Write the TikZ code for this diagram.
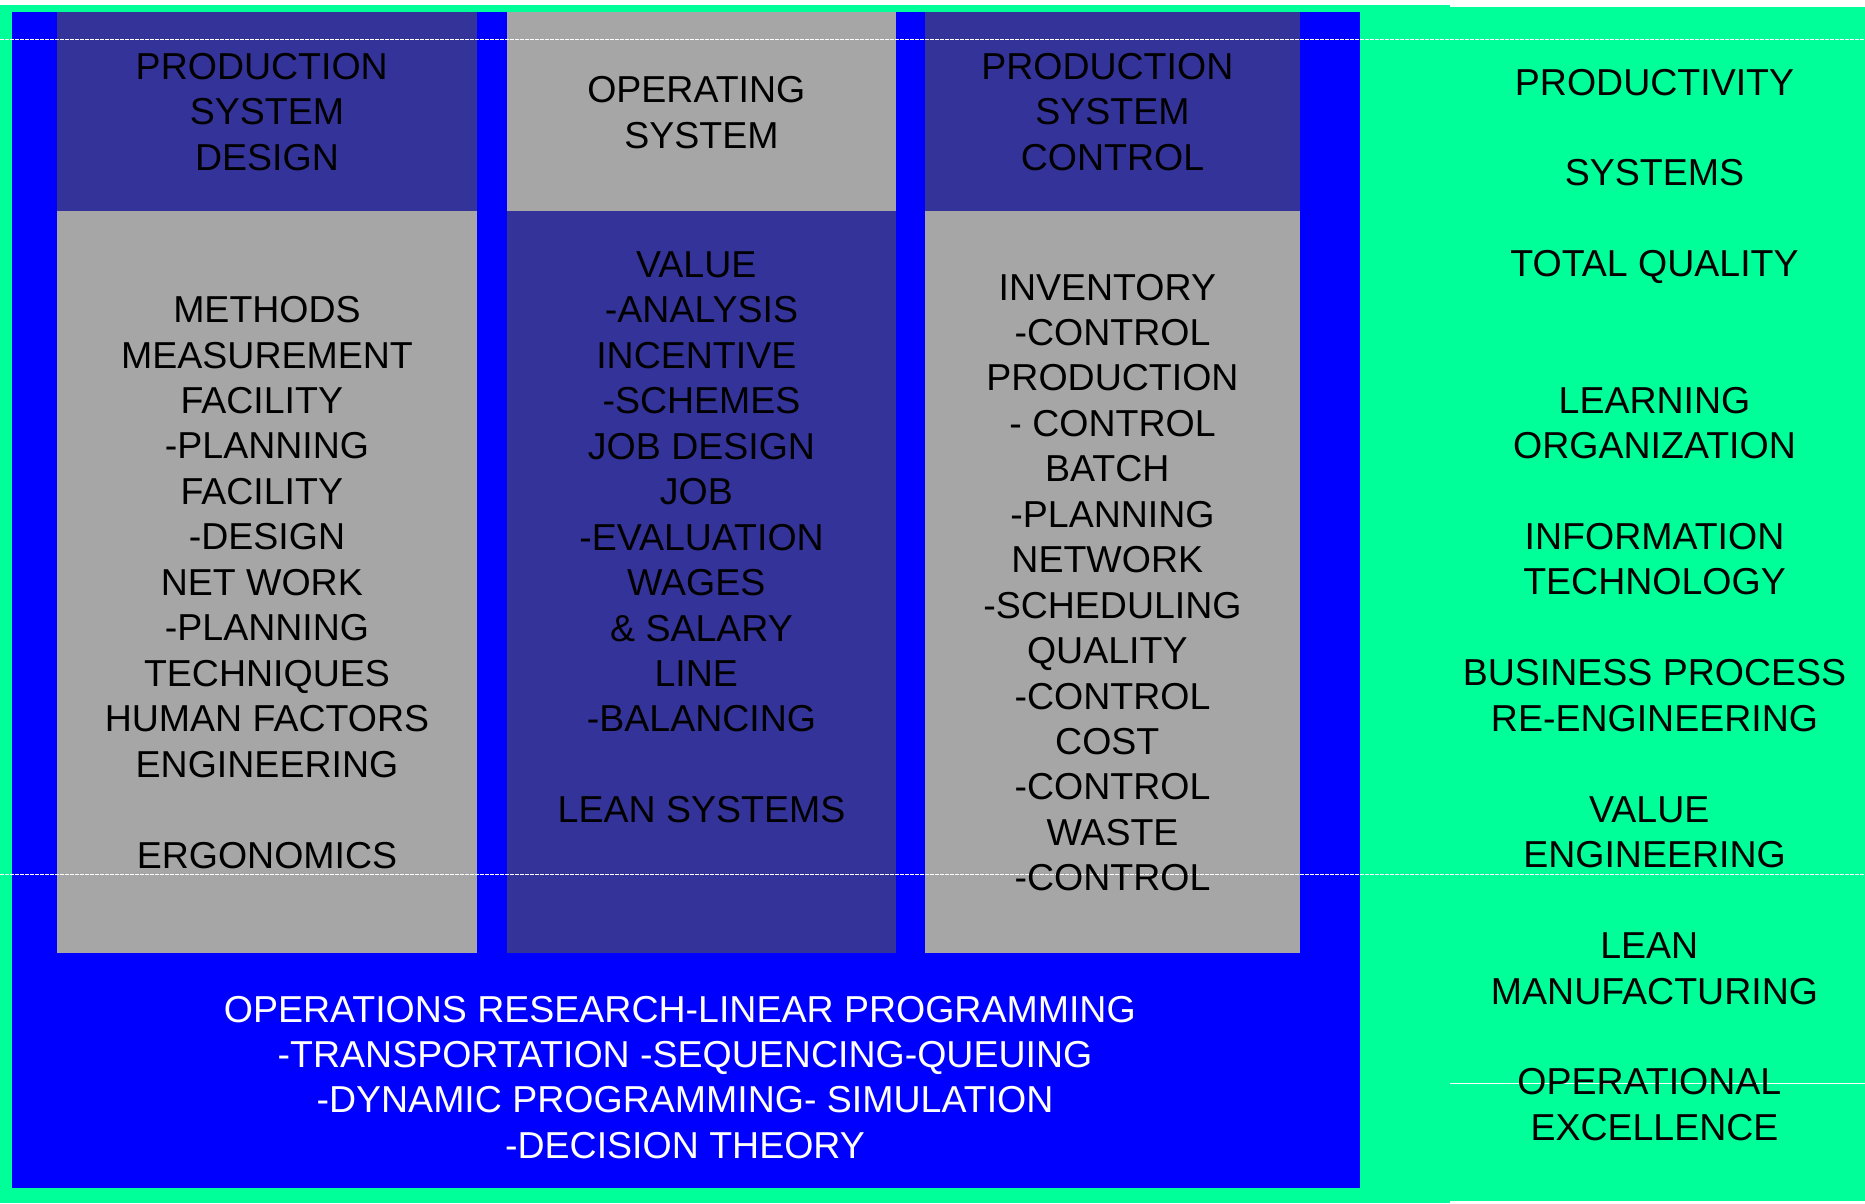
\documentclass[tikz,border=0pt]{standalone}
\usepackage{fontspec}
\setmainfont{Liberation Sans}
\definecolor{bggreen}{RGB}{0,255,153}
\definecolor{pureblue}{RGB}{0,0,255}
\definecolor{darkpanel}{RGB}{51,51,153}
\definecolor{panelgray}{RGB}{166,166,166}
\newcommand\tsp{\kern0.278em\relax}
\begin{document}
\begin{tikzpicture}[x=1pt,y=-1pt,
  txt/.style={font=\fontsize{37.5}{45}\selectfont, inner sep=0pt, anchor=base, text=black},
  wtxt/.style={txt, text=white},
  guide/.style={white, line width=1pt, dash pattern=on 4pt off 1pt}]
% background
\fill[bggreen] (0,0) rectangle (1865,1203);
\fill[white] (0,0) rectangle (1865,5);
\fill[white] (1450,0) rectangle (1865,7);
\fill[white] (1450,1201) rectangle (1865,1203);
\useasboundingbox (0,0) rectangle (1865,1203);
% blue frame
\fill[pureblue] (12,12) rectangle (1360,1188);
% panels
\fill[darkpanel] (57,12) rectangle (477,211);
\fill[panelgray] (57,211) rectangle (477,953);
\fill[panelgray] (507,12) rectangle (896,211);
\fill[darkpanel] (507,211) rectangle (896,953);
\fill[darkpanel] (925,12) rectangle (1300,211);
\fill[panelgray] (925,211) rectangle (1300,953);
% thin white guide lines
\draw[guide] (0,39) -- (1865,39);
\draw[guide] (0,874) -- (1865,874);
\draw[white, line width=1pt] (1450,1083) -- (1865,1083);
% panel 1
\foreach \k/\t in {0/PRODUCTION\tsp,1/SYSTEM,2/DESIGN}
  \node[txt] (ha-\k) at (267,{79.5+\k*45.45}) {\t};
\foreach \k/\t in {0/METHODS,1/MEASUREMENT,2/FACILITY\tsp,3/-PLANNING,4/FACILITY\tsp,5/-DESIGN,6/NET WORK\tsp,7/-PLANNING,8/TECHNIQUES,9/HUMAN FACTORS,10/ENGINEERING,12/ERGONOMICS}
  \node[txt] (ba-\k) at (267,{322.6+\k*45.45}) {\t};
% panel 2
\foreach \k/\t in {0/OPERATING\tsp,1/SYSTEM}
  \node[txt] (hb-\k) at (701.5,{102.6+\k*45.45}) {\t};
\foreach \k/\t in {0/VALUE\tsp,1/-ANALYSIS,2/INCENTIVE\tsp,3/-SCHEMES,4/JOB DESIGN,5/JOB\tsp,6/-EVALUATION,7/WAGES\tsp,8/\& SALARY,9/LINE\tsp,10/-BALANCING,12/LEAN SYSTEMS}
  \node[txt] (bb-\k) at (701.5,{277.4+\k*45.45}) {\t};
% panel 3
\foreach \k/\t in {0/PRODUCTION\tsp,1/SYSTEM,2/CONTROL}
  \node[txt] (hc-\k) at (1112.5,{79.5+\k*45.45}) {\t};
\foreach \k/\t in {0/INVENTORY\tsp,1/-CONTROL,2/PRODUCTION,3/- CONTROL,4/BATCH\tsp,5/-PLANNING,6/NETWORK\tsp,7/-SCHEDULING,8/QUALITY\tsp,9/-CONTROL,10/COST\tsp,11/-CONTROL,12/WASTE,13/-CONTROL}
  \node[txt] (bc-\k) at (1112.5,{300+\k*45.45}) {\t};
% right column
\foreach \k/\t in {0/PRODUCTIVITY,2/SYSTEMS,4/TOTAL QUALITY,7/LEARNING,8/ORGANIZATION,10/INFORMATION,11/TECHNOLOGY,13/BUSINESS PROCESS,14/RE-ENGINEERING,16/VALUE\tsp,17/ENGINEERING,19/LEAN\tsp,20/MANUFACTURING,22/OPERATIONAL\tsp,23/EXCELLENCE}
  \node[txt] (r-\k) at (1654.5,{95+\k*45.45}) {\t};
% bottom band
\foreach \k/\t in {0/OPERATIONS RESEARCH-LINEAR PROGRAMMING\tsp,1/-TRANSPORTATION -SEQUENCING-QUEUING,2/-DYNAMIC PROGRAMMING- SIMULATION,3/-DECISION THEORY}
  \node[wtxt] (or-\k) at (685,{1022+\k*45.45}) {\t};
\end{tikzpicture}
\end{document}
